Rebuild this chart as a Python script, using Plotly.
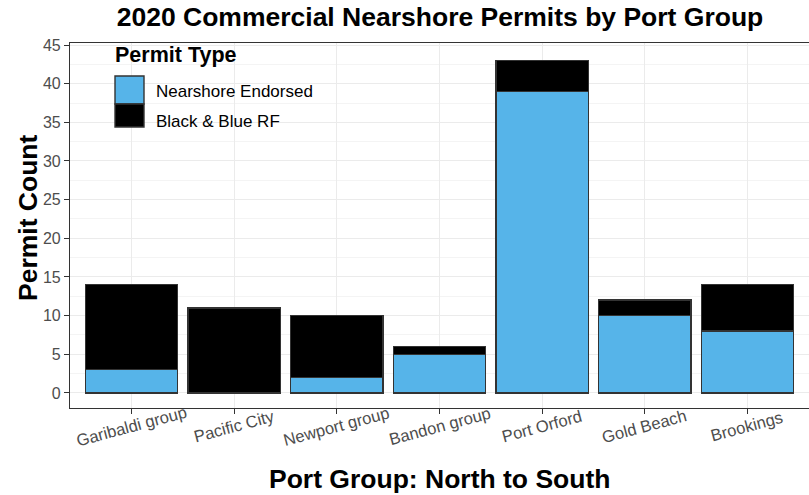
import plotly.graph_objects as go

ports = ["Garibaldi group", "Pacific City", "Newport group", "Bandon group",
         "Port Orford", "Gold Beach", "Brookings"]
nearshore_endorsed = [3, 0, 2, 5, 39, 10, 8]
black_blue_rf = [11, 11, 8, 1, 4, 2, 6]
y_ticks = [0, 5, 10, 15, 20, 25, 30, 35, 40, 45]

BLUE = "#56B4E9"
BLACK = "#000000"
OUTLINE = "#333333"
FONT = "Liberation Sans, Arial, sans-serif"

FIG_W, FIG_H = 809, 495
# plot area in pixels
L, R, T, B = 70, 809, 43, 408
W, H = R - L, B - T


def px(x):
    return (x - L) / W


def py(y):
    return (B - y) / H


fig = go.Figure()
fig.add_trace(go.Bar(x=ports, y=nearshore_endorsed, name="Nearshore Endorsed",
                     marker=dict(color=BLUE, line=dict(color=OUTLINE, width=1.4)),
                     width=0.9, showlegend=False))
fig.add_trace(go.Bar(x=ports, y=black_blue_rf, name="Black & Blue RF",
                     marker=dict(color=BLACK, line=dict(color=OUTLINE, width=1.4)),
                     width=0.9, showlegend=False))

# Legend drawn manually (large ggplot-style keys)
fig.add_shape(type="rect", xref="paper", yref="paper",
              x0=px(115), x1=px(144), y0=py(104), y1=py(76),
              fillcolor=BLUE, line=dict(color=OUTLINE, width=1.4))
fig.add_shape(type="rect", xref="paper", yref="paper",
              x0=px(115), x1=px(144), y0=py(127), y1=py(104),
              fillcolor=BLACK, line=dict(color=OUTLINE, width=1.4))
fig.add_annotation(xref="paper", yref="paper", x=px(113), y=py(55),
                   text="<b>Permit Type</b>", showarrow=False, xanchor="left",
                   yanchor="middle", font=dict(family=FONT, size=21.5, color="black"))
fig.add_annotation(xref="paper", yref="paper", x=px(154), y=py(91),
                   text="Nearshore Endorsed", showarrow=False, xanchor="left",
                   yanchor="middle", font=dict(family=FONT, size=17, color="black"))
fig.add_annotation(xref="paper", yref="paper", x=px(154), y=py(121),
                   text="Black & Blue RF", showarrow=False, xanchor="left",
                   yanchor="middle", font=dict(family=FONT, size=17, color="black"))

# x tick labels (rotated about their centres, like ggplot)
for p in ports:
    fig.add_annotation(xref="x", yref="paper", x=p, y=py(427), text=p,
                       textangle=-15, showarrow=False, xanchor="center",
                       yanchor="middle",
                       font=dict(family=FONT, size=16.6, color="#4D4D4D"))

# axis titles
fig.add_annotation(xref="paper", yref="paper", x=px(440), y=py(479),
                   text="<b>Port Group: North to South</b>", showarrow=False,
                   xanchor="center", yanchor="middle",
                   font=dict(family=FONT, size=26.5, color="black"))
fig.add_annotation(xref="paper", yref="paper", x=px(28), y=py(218),
                   text="<b>Permit Count</b>", showarrow=False, textangle=-90,
                   xanchor="center", yanchor="middle",
                   font=dict(family=FONT, size=26.5, color="black"))

fig.update_layout(
    barmode="stack",
    width=FIG_W, height=FIG_H,
    margin=dict(l=L, r=FIG_W - R, t=T, b=FIG_H - B, autoexpand=False),
    paper_bgcolor="white", plot_bgcolor="white",
    font=dict(family=FONT),
    title=dict(text="<b>2020 Commercial Nearshore Permits by Port Group</b>",
               x=440 / FIG_W, xanchor="center",
               y=1 - 17 / FIG_H, yanchor="middle",
               font=dict(family=FONT, size=26.5, color="black")),
)
fig.update_xaxes(
    range=[-0.6, 6.6], automargin=False,
    showline=True, mirror=True, linecolor=OUTLINE, linewidth=1.2,
    showgrid=True, gridcolor="#EBEBEB", gridwidth=1.2,
    ticks="outside", ticklen=5, tickcolor=OUTLINE, tickwidth=1.2,
    showticklabels=False,
)
fig.update_yaxes(
    range=[-1.95, 45.26], automargin=False,
    tickvals=y_ticks,
    showline=True, mirror=True, linecolor=OUTLINE, linewidth=1.2,
    showgrid=True, gridcolor="#EBEBEB", gridwidth=1.2, zeroline=False,
    minor=dict(dtick=2.5, tick0=2.5, showgrid=True, gridcolor="#F4F4F4", gridwidth=0.7),
    ticks="outside", ticklen=5, tickcolor=OUTLINE, tickwidth=1.2,
    tickfont=dict(family=FONT, size=16, color="#4D4D4D"),
)

# remove the page's default 8px body margin so the figure fills the window
fig.write_html("out.html", config={"displayModeBar": False},
               post_script="document.body.style.margin='0px';")
